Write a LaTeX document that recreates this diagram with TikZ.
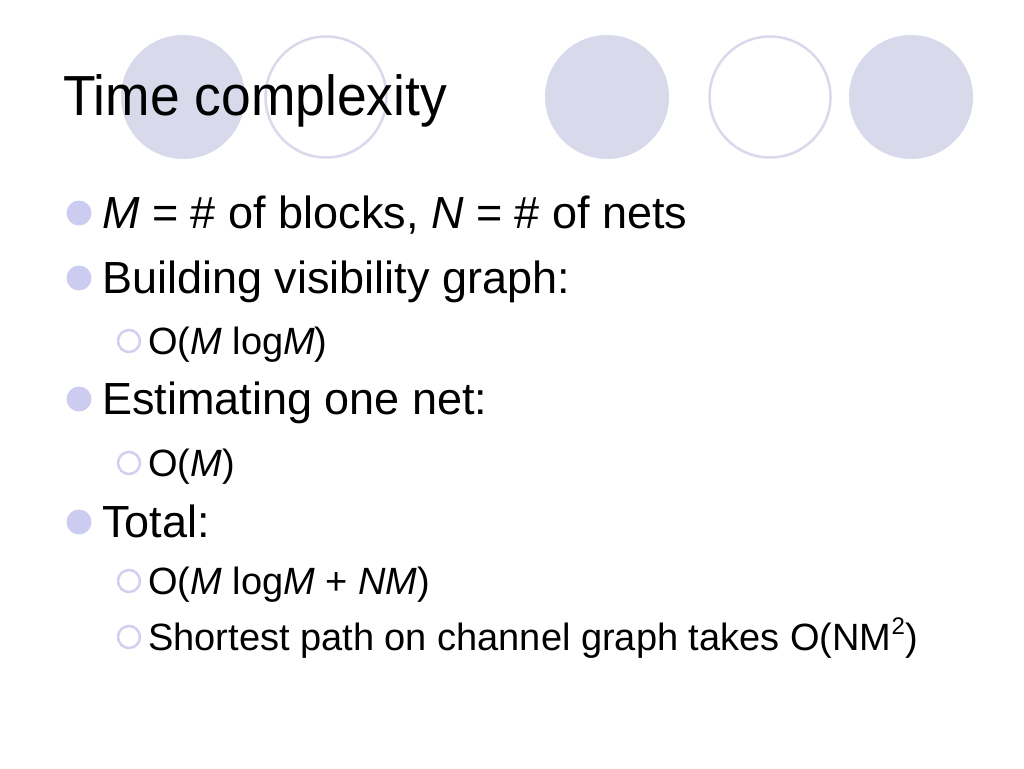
\documentclass[tikz,border=0pt]{standalone}
\usepackage{fontspec}
\setmainfont{Liberation Sans}
\definecolor{lav}{RGB}{217,217,236}
\definecolor{bul}{RGB}{204,204,240}
\definecolor{ring}{RGB}{208,208,240}
\begin{document}
\begin{tikzpicture}[x=1pt,y=-1pt,
  bigdisc/.style={circle, fill=lav, minimum size=124pt, inner sep=0pt},
  bigring/.style={circle, draw=lav, line width=2.5pt, minimum size=121pt, inner sep=0pt},
  bulA/.style={circle, fill=bul, minimum size=25pt, inner sep=0pt},
  bulB/.style={circle, draw=ring, line width=2.5pt, minimum size=22pt, inner sep=0pt},
  ttl/.style={anchor=base west, inner sep=0pt, font=\fontsize{56.5}{62}\selectfont, xscale=0.945},
  lvA/.style={anchor=base west, inner sep=0pt, font=\fontsize{45}{54}\selectfont},
  lvB/.style={anchor=base west, inner sep=0pt, font=\fontsize{38}{46}\selectfont}]
\useasboundingbox[fill=white] (0,0) rectangle (1024,768);
% decorative circles
\node[bigdisc] (c1) at (183,97) {};
\node[bigring] (c2) at (326,97) {};
\node[bigdisc] (c3) at (607,97) {};
\node[bigring] (c4) at (770,97) {};
\node[bigdisc] (c5) at (911,97) {};
% title
\node[ttl] (title) at (63,115) {Time complexity};
% bullets
\node[bulA] (b1) at (79,213) {};
\node[lvA] (t1) at (102,228) {\textit{M} = \# of blocks, \textit{N} = \# of nets};
\node[bulA] (b2) at (79,278) {};
\node[lvA] (t2) at (102,293) {Building visibility graph:};
\node[bulB] (s1) at (129,341) {};
\node[lvB] (u1) at (148,354) {O(\textit{M} log\textit{M})};
\node[bulA] (b3) at (79,399) {};
\node[lvA] (t3) at (102,414) {Estimating one net:};
\node[bulB] (s2) at (129,463) {};
\node[lvB] (u2) at (148,476) {O(\textit{M})};
\node[bulA] (b4) at (79,522) {};
\node[lvA] (t4) at (102,537) {Total:};
\node[bulB] (s3) at (129,581) {};
\node[lvB] (u3) at (148,594) {O(\textit{M} log\textit{M} + \textit{NM})};
\node[bulB] (s4) at (129,637) {};
\node[lvB] (u4) at (148,650) {Shortest path on channel graph takes O(NM\raisebox{0.4em}{\fontsize{24}{24}\selectfont 2})};
\end{tikzpicture}
\end{document}
